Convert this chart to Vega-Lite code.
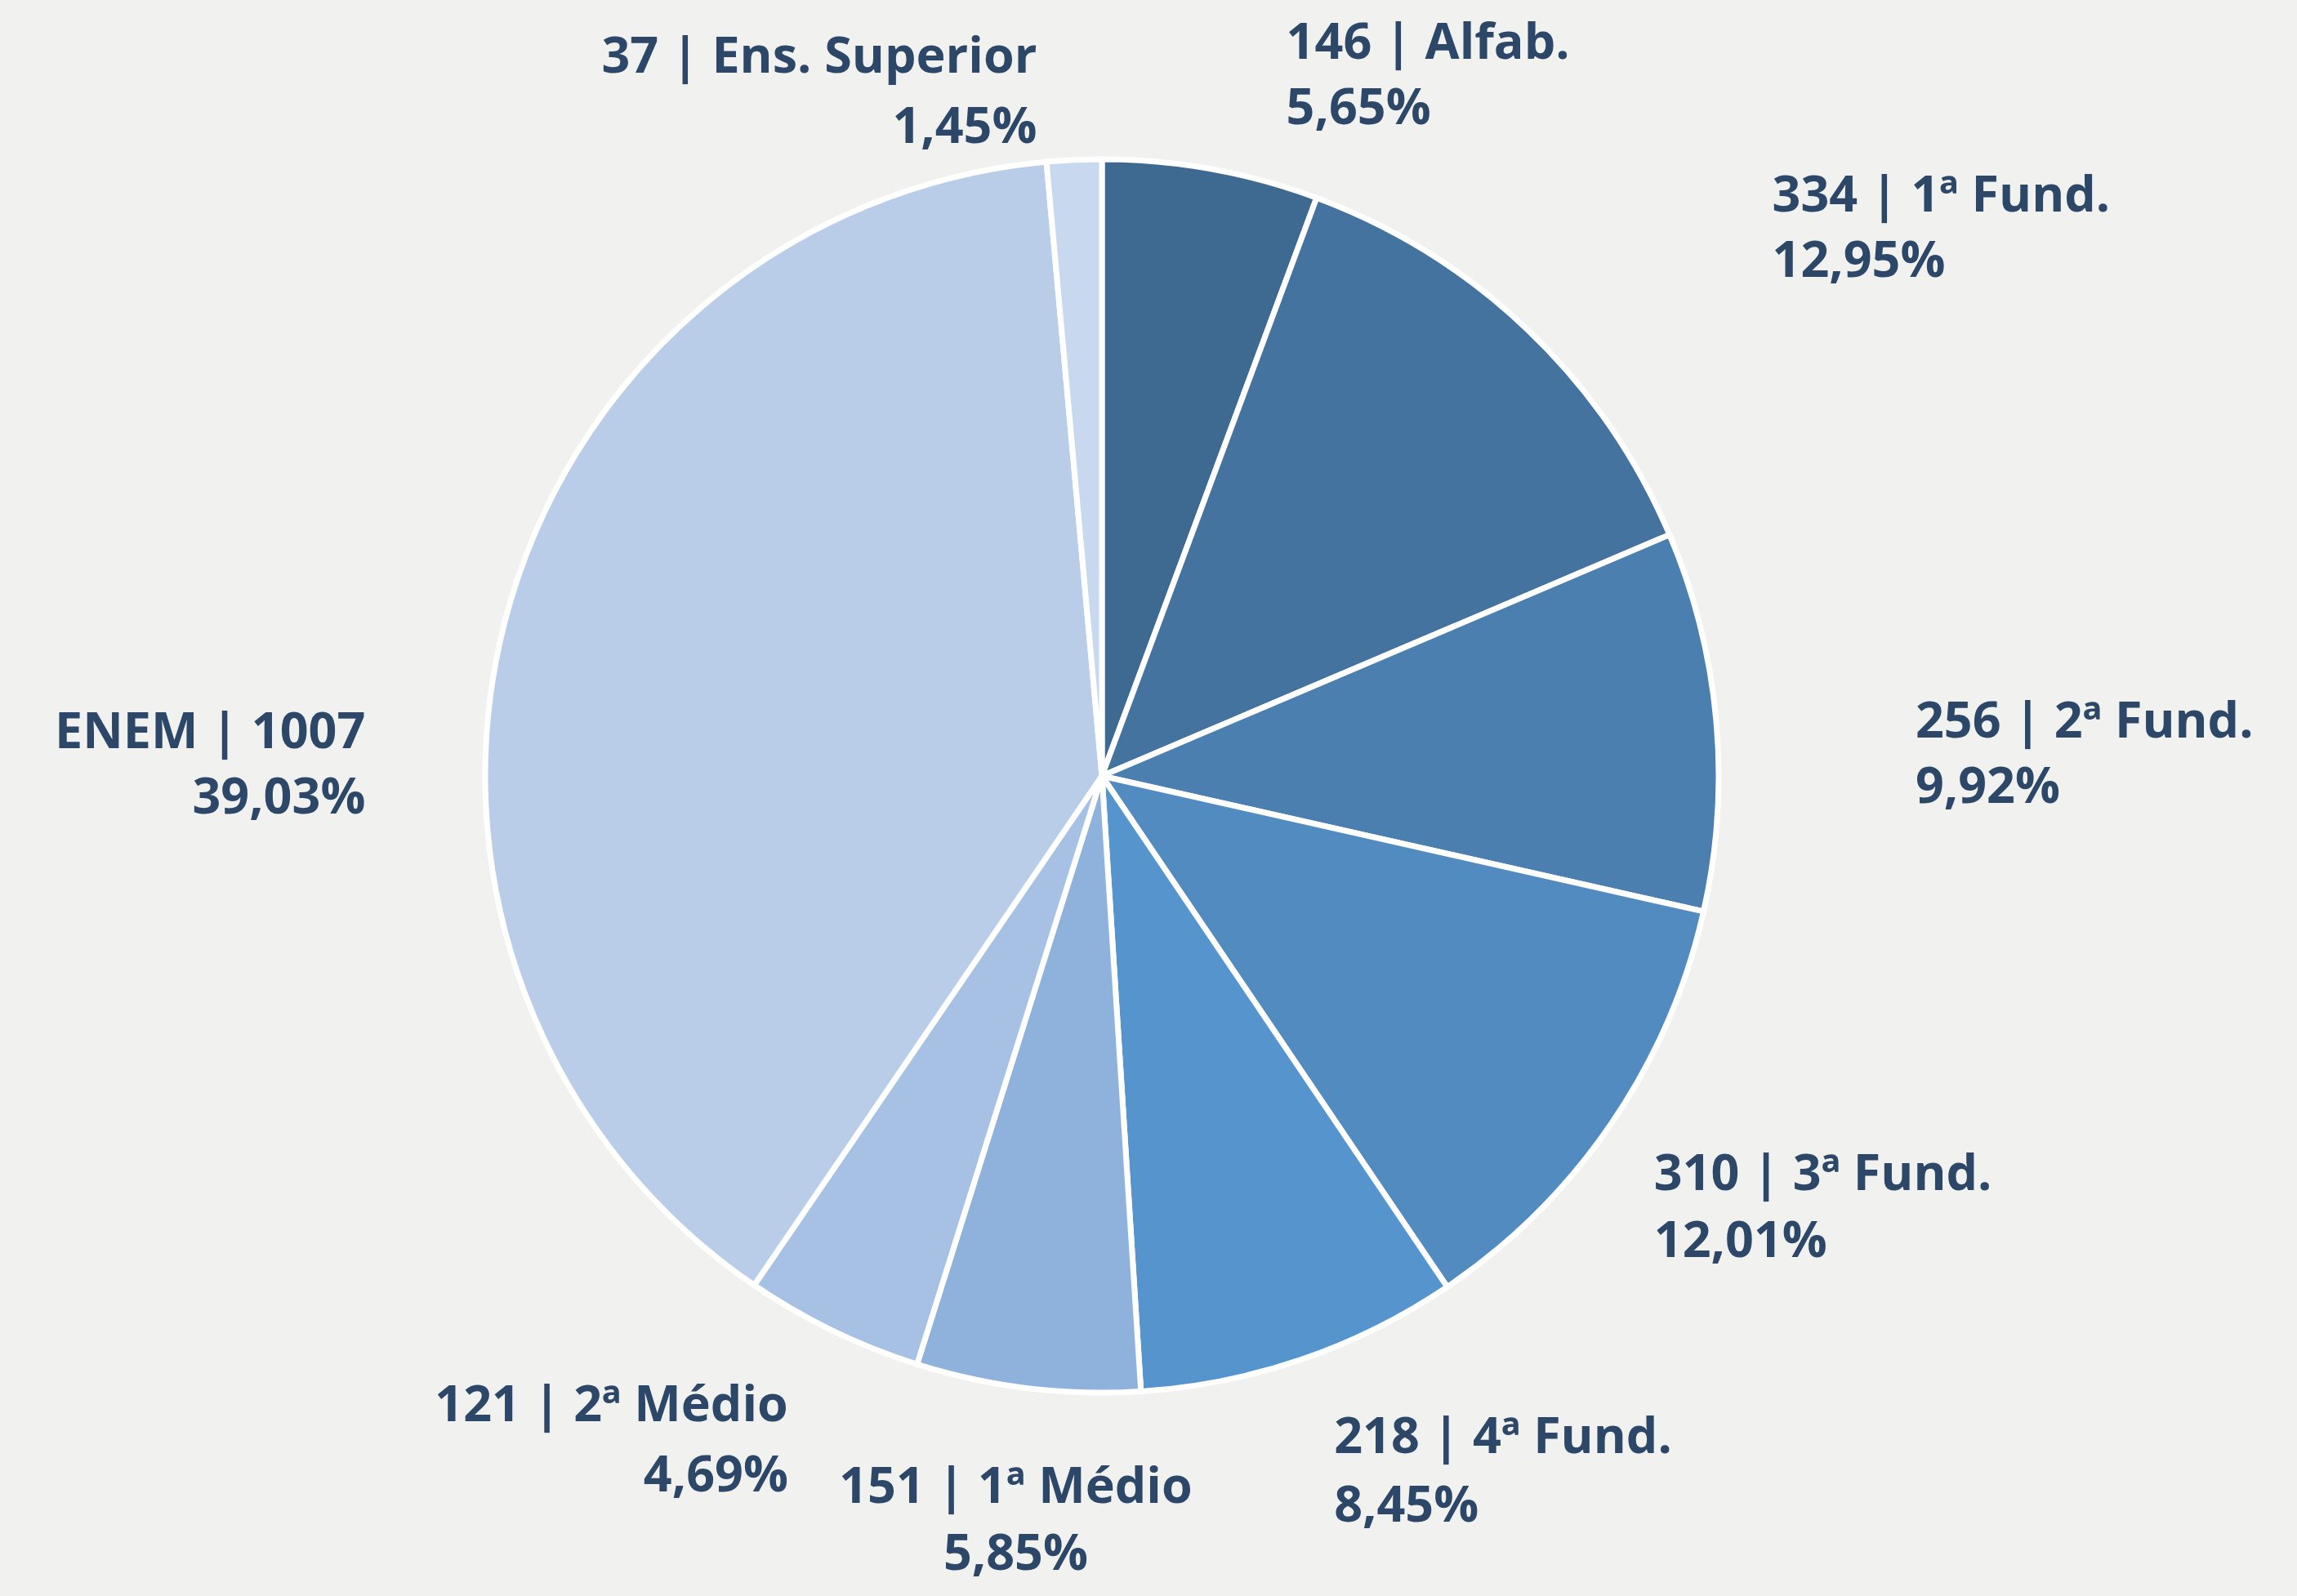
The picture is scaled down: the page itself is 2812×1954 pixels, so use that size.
{
  "$schema": "https://vega.github.io/schema/vega-lite/v6.json",
  "width": 2698,
  "height": 1900,
  "autosize": {"type": "none"},
  "padding": {"left": 0, "right": 114, "top": 0, "bottom": 54},
  "background": "#f1f1f0",
  "config": {"view": {"stroke": null}, "text": {"font": "Open Sans", "fontWeight": "bold", "fontSize": 61, "baseline": "middle", "lineBreak": "\n", "lineHeight": 78}},
  "data": {
    "values": [
      {"ordem": 1, "nivel": "Alfab.", "n": 146, "rotulo": "146 | Alfab.\n5,65%"},
      {"ordem": 2, "nivel": "1º Fund.", "n": 334, "rotulo": "334 | 1ª Fund.\n12,95%"},
      {"ordem": 3, "nivel": "2º Fund.", "n": 256, "rotulo": "256 | 2ª Fund.\n9,92%"},
      {"ordem": 4, "nivel": "3º Fund.", "n": 310, "rotulo": "310 | 3ª Fund.\n12,01%"},
      {"ordem": 5, "nivel": "4º Fund.", "n": 218, "rotulo": "218 | 4ª Fund.\n8,45%"},
      {"ordem": 6, "nivel": "1º Médio", "n": 151, "rotulo": "151 | 1ª Médio\n5,85%"},
      {"ordem": 7, "nivel": "2º Médio", "n": 121, "rotulo": "121 | 2ª Médio\n4,69%"},
      {"ordem": 8, "nivel": "ENEM", "n": 1007, "rotulo": "ENEM | 1007\n39,03%"},
      {"ordem": 9, "nivel": "Ens. Superior", "n": 37, "rotulo": "37 | Ens. Superior\n1,45%"}
    ]
  },
  "encoding": {
    "theta": {"field": "n", "type": "quantitative", "stack": true},
    "order": {"field": "ordem", "type": "quantitative"},
    "color": {
      "field": "nivel",
      "type": "nominal",
      "legend": null,
      "scale": {
        "domain": ["Alfab.", "1º Fund.", "2º Fund.", "3º Fund.", "4º Fund.", "1º Médio", "2º Médio", "ENEM", "Ens. Superior"],
        "range": ["#3e6990", "#44739f", "#4b7fb0", "#528bc0", "#5594cd", "#8fb2dc", "#a7c1e5", "#b9cde8", "#c8d8ee"]
      }
    }
  },
  "layer": [
    {
      "mark": {"type": "arc", "outerRadius": 755, "stroke": "#ffffff", "strokeWidth": 7}
    },
    {
      "mark": {"type": "text", "radius": 880, "align": "left", "dx": 70, "dy": -30, "lineHeight": 80},
      "encoding": {
        "color": {"value": "#2c4767"},
        "text": {"condition": {"test": "datum.nivel == 'Alfab.'", "field": "rotulo", "type": "nominal"}, "value": ""}
      }
    },
    {
      "mark": {"type": "text", "radius": 880, "align": "left", "dy": -22, "lineHeight": 84},
      "encoding": {
        "color": {"value": "#2c4767"},
        "text": {"condition": {"test": "datum.nivel == '4º Fund.'", "field": "rotulo", "type": "nominal"}, "value": ""}
      }
    },
    {
      "mark": {"type": "text", "radius": 1000, "align": "left", "dx": 130, "dy": 14, "lineHeight": 80},
      "encoding": {
        "color": {"value": "#2c4767"},
        "text": {"condition": {"test": "datum.nivel == '1º Fund.'", "field": "rotulo", "type": "nominal"}, "value": ""}
      }
    },
    {
      "mark": {"type": "text", "radius": 1000, "align": "left", "dy": 25, "lineHeight": 80},
      "encoding": {
        "color": {"value": "#2c4767"},
        "text": {"condition": {"test": "datum.nivel == '2º Fund.'", "field": "rotulo", "type": "nominal"}, "value": ""}
      }
    },
    {
      "mark": {"type": "text", "radius": 1000, "align": "left", "dx": -150, "dy": -75, "lineHeight": 82},
      "encoding": {
        "color": {"value": "#2c4767"},
        "text": {"condition": {"test": "datum.nivel == '3º Fund.'", "field": "rotulo", "type": "nominal"}, "value": ""}
      }
    },
    {
      "mark": {"type": "text", "radius": 878, "align": "center", "lineHeight": 82},
      "encoding": {
        "color": {"value": "#2c4767"},
        "text": {"condition": {"test": "datum.nivel == '1º Médio'", "field": "rotulo", "type": "nominal"}, "value": ""}
      }
    },
    {
      "mark": {"type": "text", "radius": 880, "align": "right", "dy": -20, "lineHeight": 86},
      "encoding": {
        "color": {"value": "#2c4767"},
        "text": {"condition": {"test": "datum.nivel == '2º Médio'", "field": "rotulo", "type": "nominal"}, "value": ""}
      }
    },
    {
      "mark": {"type": "text", "radius": 880, "align": "right", "dx": -50, "dy": 170, "lineHeight": 80},
      "encoding": {
        "color": {"value": "#2c4767"},
        "text": {"condition": {"test": "datum.nivel == 'ENEM'", "field": "rotulo", "type": "nominal"}, "value": ""}
      }
    },
    {
      "mark": {"type": "text", "radius": 880, "align": "right", "dx": -40, "lineHeight": 86},
      "encoding": {
        "color": {"value": "#2c4767"},
        "text": {"condition": {"test": "datum.nivel == 'Ens. Superior'", "field": "rotulo", "type": "nominal"}, "value": ""}
      }
    }
  ]
}
